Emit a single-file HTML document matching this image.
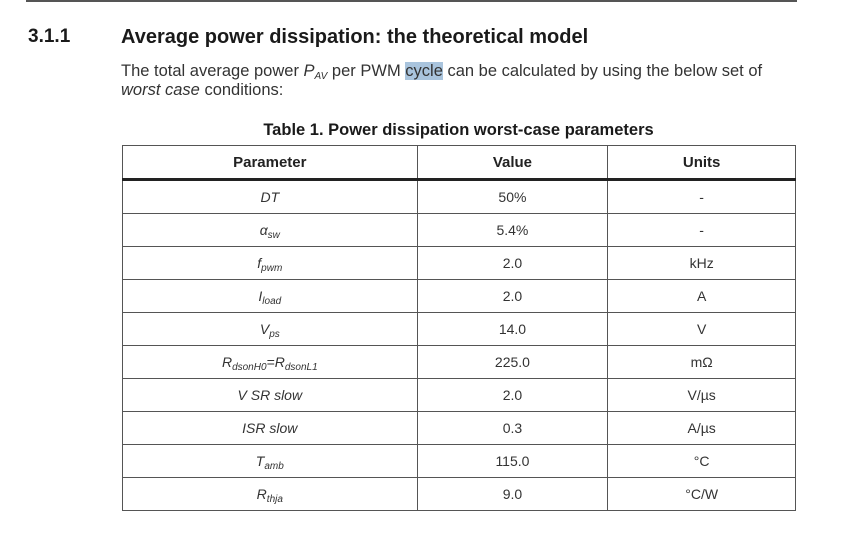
<!DOCTYPE html>
<html><head><meta charset="utf-8"><style>
body{margin:0;width:857px;height:534px;background:#fff;font-family:"Liberation Sans",sans-serif;color:#1a1a1a;position:relative;overflow:hidden}
.rule{position:absolute;left:26px;top:0;width:771px;height:2px;background:#555}
.num{position:absolute;left:28px;top:26px;font-weight:bold;font-size:19px}
.h{position:absolute;left:121px;top:26px;font-weight:bold;font-size:20px}
.p{position:absolute;left:121px;top:62px;font-size:16.5px;line-height:19px;color:#333}
.sel{background:#a9c4dd}
.cap{position:absolute;left:122px;width:673px;top:121px;text-align:center;font-weight:bold;font-size:16.5px}
table{position:absolute;left:122px;top:145px;width:674px;border-collapse:collapse;font-size:14px;color:#333}
td,th{border:1px solid #555;text-align:center;height:32px;padding:0}
th{font-weight:bold;color:#222;border-bottom:3px solid #222;font-size:15px}
td.i{font-style:italic}
sub{font-size:10px;vertical-align:-3px;line-height:0}
</style></head><body>
<div class="rule"></div>
<div class="num">3.1.1</div>
<div class="h">Average power dissipation: the theoretical model</div>
<div class="p">The total average power <i>P<sub>AV</sub></i> per PWM <span class="sel">cycle</span> can be calculated by using the below set of<br><i>worst case</i> conditions:</div>
<div class="cap">Table 1. Power dissipation worst-case parameters</div>
<table>
<colgroup><col style="width:295px"><col style="width:191px"><col style="width:188px"></colgroup>
<tr><th>Parameter</th><th>Value</th><th>Units</th></tr>
<tr><td class="i">DT</td><td>50%</td><td>-</td></tr>
<tr><td class="i">α<sub>sw</sub></td><td>5.4%</td><td>-</td></tr>
<tr><td class="i">f<sub>pwm</sub></td><td>2.0</td><td>kHz</td></tr>
<tr><td class="i">I<sub>load</sub></td><td>2.0</td><td>A</td></tr>
<tr><td class="i">V<sub>ps</sub></td><td>14.0</td><td>V</td></tr>
<tr><td class="i">R<sub>dsonH0</sub>=R<sub>dsonL1</sub></td><td>225.0</td><td>mΩ</td></tr>
<tr><td class="i">V SR slow</td><td>2.0</td><td>V/µs</td></tr>
<tr><td class="i">ISR slow</td><td>0.3</td><td>A/µs</td></tr>
<tr><td class="i">T<sub>amb</sub></td><td>115.0</td><td>°C</td></tr>
<tr><td class="i">R<sub>thja</sub></td><td>9.0</td><td>°C/W</td></tr>
</table>
</body></html>
